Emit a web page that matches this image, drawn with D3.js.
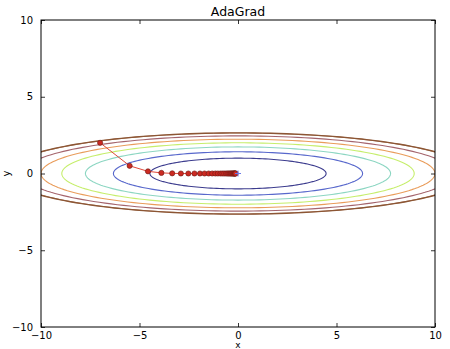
<!DOCTYPE html>
<html>
<head>
<meta charset="utf-8">
<script src="https://cdn.jsdelivr.net/npm/d3@7"></script>
<style>
	body { margin: 0; background: #fff; }
	svg { display: block; font-family: "DejaVu Sans", sans-serif; }
</style>
</head>
<body>
<div id="chart"></div>
<script>

// contour levels of f(x, y) = x^2 / 20 + y^2 and their colours
var levels = [1, 2, 3, 4, 5, 6];
var levelColors = ["#3c3c8e", "#5868cc", "#8cd6c2", "#c6ee6c", "#e99c5a", "#a4646c"];
// masked edge (z > 7 set to 0) where all levels bunch up
var edgeLevel = 7;
var edgeColor = "#8c5634";

// AdaGrad path
var xHistory = [-7, -5.5, -4.57, -3.89, -3.34, -2.9, -2.52, -2.21, -1.93, -1.7, -1.49, -1.31, -1.15, -1.02,
	-0.89, -0.79, -0.7, -0.61, -0.54, -0.48, -0.42, -0.37, -0.33, -0.29, -0.25, -0.22, -0.2, -0.17, -0.15, -0.14, -0.12];
var yHistory = [2, 0.5, 0.14, 0.04, 0.01, 0, 0, 0, 0, 0, 0, 0, 0, 0,
	0, 0, 0, 0, 0, 0, 0, 0, 0, 0, 0, 0, 0, 0, 0, 0, 0];

var xTicks = [-10, -5, 0, 5, 10];
var yTicks = [-10, -5, 0, 5, 10];

var width = 450, height = 349,
	margin = {top: 20, right: 15, bottom: 22, left: 41};

var svg = d3.select("#chart").append("svg")
	.attr("width", width)
	.attr("height", height);

var x = d3.scaleLinear().domain([-10, 10]).range([margin.left, width - margin.right]);
var y = d3.scaleLinear().domain([-10, 10]).range([height - margin.bottom, margin.top]);

svg.append("clipPath").attr("id", "plot")
	.append("rect")
	.attr("x", x(-10)).attr("y", y(10))
	.attr("width", x(10) - x(-10)).attr("height", y(-10) - y(10));

var plot = svg.append("g").attr("clip-path", "url(#plot)");

var angles = d3.range(0, 361, 2).map(function(d) { return d * Math.PI / 180; });
var line = d3.line()
	.x(function(d) { return x(d[0]); })
	.y(function(d) { return y(d[1]); });

function ellipse(level) {
	return angles.map(function(t) {
		return [Math.sqrt(20 * level) * Math.cos(t), Math.sqrt(level) * Math.sin(t)];
	});
}

plot.selectAll(".level")
	.data(levels)
	.enter().append("path")
		.attr("class", "level")
		.attr("d", function(d) { return line(ellipse(d)); })
		.attr("fill", "none")
		.attr("stroke", function(d, i) { return levelColors[i]; })
		.attr("stroke-width", 1.1);

plot.append("path")
	.attr("d", line(ellipse(edgeLevel - 0.04)))
	.attr("fill", "none")
	.attr("stroke", "#b07a60")
	.attr("stroke-width", 1);

plot.append("path")
	.attr("d", line(ellipse(edgeLevel)))
	.attr("fill", "none")
	.attr("stroke", edgeColor)
	.attr("stroke-width", 1.4);

// optimisation path
var path = xHistory.map(function(d, i) { return [d, yHistory[i]]; });

plot.append("path")
	.attr("d", line(path))
	.attr("fill", "none")
	.attr("stroke", "#e0483a")
	.attr("stroke-width", 1);

plot.selectAll(".step")
	.data(path)
	.enter().append("circle")
		.attr("class", "step")
		.attr("cx", function(d) { return x(d[0]); })
		.attr("cy", function(d) { return y(d[1]); })
		.attr("r", 2.6)
		.attr("fill", "#cc2a22")
		.attr("stroke", "#6a1a14")
		.attr("stroke-width", 0.6);

// minimum marker
plot.append("path")
	.attr("d", "M" + (x(0) - 3) + "," + y(0) + "H" + (x(0) + 3) + "M" + x(0) + "," + (y(0) - 3) + "V" + (y(0) + 3))
	.attr("stroke", "#6a78e8")
	.attr("stroke-width", 1);

// axes, ticks inside on all four sides
var bottom = svg.append("g").attr("transform", "translate(0," + y(-10) + ")")
	.call(d3.axisBottom(x).tickValues(xTicks).tickSize(-4).tickPadding(5).tickFormat(d3.format("")));
var top = svg.append("g").attr("transform", "translate(0," + y(10) + ")")
	.call(d3.axisTop(x).tickValues(xTicks).tickSize(-4).tickFormat(""));
var left = svg.append("g").attr("transform", "translate(" + x(-10) + ",0)")
	.call(d3.axisLeft(y).tickValues(yTicks).tickSize(-4).tickPadding(8).tickFormat(d3.format("")));
var right = svg.append("g").attr("transform", "translate(" + x(10) + ",0)")
	.call(d3.axisRight(y).tickValues(yTicks).tickSize(-4).tickFormat(""));

svg.selectAll(".domain").remove();
svg.selectAll(".tick line").attr("stroke", "#000").attr("stroke-width", 0.8);
svg.selectAll(".tick text")
	.attr("fill", "#000")
	.style("font-size", "10px")
	.style("font-family", "DejaVu Sans, sans-serif");

svg.append("rect")
	.attr("x", x(-10)).attr("y", y(10))
	.attr("width", x(10) - x(-10)).attr("height", y(-10) - y(10))
	.attr("fill", "none")
	.attr("stroke", "#000")
	.attr("stroke-width", 1);

svg.append("text")
	.attr("x", (x(-10) + x(10)) / 2)
	.attr("y", 16)
	.attr("text-anchor", "middle")
	.style("font-size", "12.5px")
	.text("AdaGrad");

svg.append("text")
	.attr("x", (x(-10) + x(10)) / 2)
	.attr("y", 348)
	.attr("text-anchor", "middle")
	.style("font-size", "9px")
	.text("x");

svg.append("text")
	.attr("transform", "translate(10," + y(0) + ") rotate(-90)")
	.attr("text-anchor", "middle")
	.style("font-size", "10px")
	.text("y");

</script>
</body>
</html>
